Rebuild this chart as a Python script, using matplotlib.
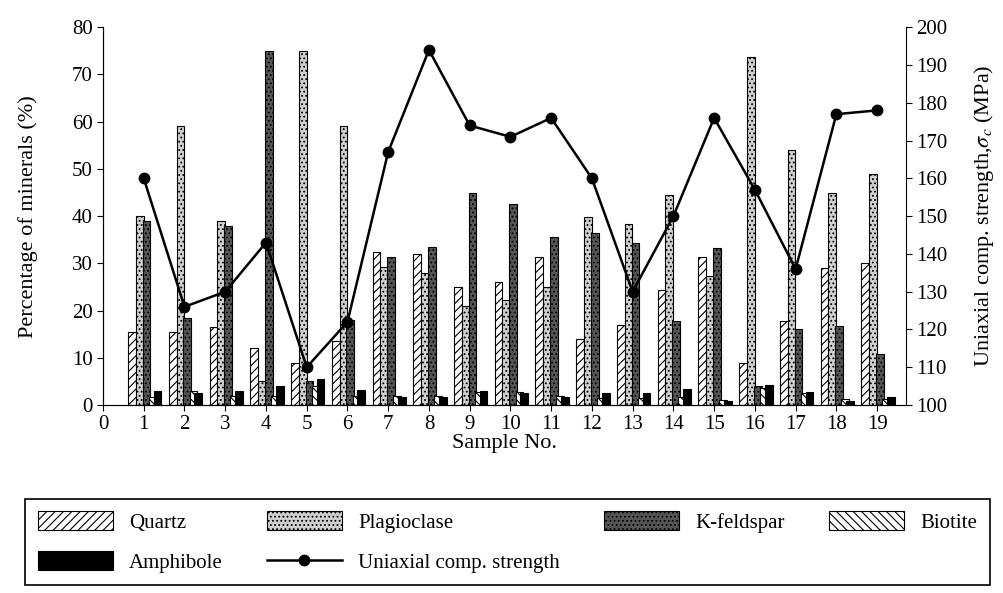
import numpy as np
import matplotlib
matplotlib.use("Agg")
import matplotlib.pyplot as plt
from matplotlib.lines import Line2D

plt.rcParams['font.family'] = ['Liberation Serif', 'DejaVu Serif']
plt.rcParams['mathtext.fontset'] = 'stix'
plt.rcParams['hatch.linewidth'] = 0.8

# data
samples = list(range(1, 20))
quartz = [15.5, 15.5, 16.5, 12, 9, 13.5, 32.4, 32, 25, 26, 31.3, 14, 17, 24.3, 31.3, 9, 17.8, 29, 30]
plagioclase = [40, 59, 39, 5, 75, 59, 29.3, 28, 21, 22.3, 25, 39.8, 38.4, 44.4, 27.3, 73.6, 54, 45, 49]
k_feldspar = [39, 18.5, 38, 75, 5, 18, 31.3, 33.5, 45, 42.6, 35.5, 36.5, 34.4, 17.8, 33.2, 4, 16, 16.7, 10.8]
biotite = [1.8, 3, 2, 2, 4, 2, 2, 2, 2.8, 2.8, 2, 1.5, 1.5, 1.7, 1, 3.5, 2.5, 1.2, 1.3]
amphibole = [3, 2.5, 3, 4, 5.5, 3.2, 1.8, 1.8, 3, 2.5, 1.8, 2.5, 2.5, 3.3, 0.8, 4.2, 2.8, 0.8, 1.8]
ucs = [160, 126, 130, 143, 110, 122, 167, 194, 174, 171, 176, 160, 130, 150, 176, 157, 136, 177, 178]

series = [
    ('Quartz', quartz, 'white', '////'),
    ('Plagioclase', plagioclase, '#d0d0d0', '....'),
    ('K-feldspar', k_feldspar, '#555555', '....'),
    ('Biotite', biotite, 'white', '\\\\\\\\'),
    ('Amphibole', amphibole, 'black', None),
]
offsets = [-0.29, -0.1, 0.07, 0.22, 0.34]
width = 0.19

fig = plt.figure(figsize=(10.04, 5.93), dpi=100)
ax = fig.add_axes([0.1026, 0.317, 0.7994, 0.637])
x = np.array(samples)

handles = {}
for (name, vals, color, hatch), off in zip(series, offsets):
    b = ax.bar(x + off, vals, width=width, color=color, edgecolor='black',
               linewidth=0.8, hatch=hatch, label=name, zorder=2)
    handles[name] = b

ax.set_xlim(0, 19.7)
ax.set_ylim(0, 80)
ax.set_xticks(range(0, 20))
ax.set_yticks(range(0, 81, 10))
ax.tick_params(labelsize=15, direction='out', length=4)
ax.set_xlabel('Sample No.', fontsize=16, labelpad=0)
ax.set_ylabel('Percentage of minerals (%)', fontsize=16, labelpad=24)
ax.spines['top'].set_visible(False)
ax.spines['right'].set_visible(False)

ax2 = ax.twinx()
ax2.plot(x, ucs, color='black', marker='o', markersize=7.5, linewidth=1.8, zorder=3)
ax2.set_ylim(100, 200)
ax2.set_yticks(range(100, 201, 10))
ax2.tick_params(labelsize=15, direction='out', length=4)
ax2.set_ylabel('Uniaxial comp. strength,$\\sigma_c$ (MPa)', fontsize=16, labelpad=18)
ax2.spines['top'].set_visible(False)

line_h = Line2D([], [], color='black', marker='o', markersize=7.5, linewidth=1.8)
order = ['Quartz', 'Amphibole', 'Plagioclase', 'Uniaxial comp. strength', 'K-feldspar', 'Biotite']
hmap = dict(handles)
hmap['Uniaxial comp. strength'] = line_h
leg = fig.legend([hmap[k] for k in order], order, ncol=4, loc='lower left',
                 bbox_to_anchor=(0.025, 0.013, 0.961, 0.149), mode='expand',
                 fontsize=15, handlelength=3.6, handleheight=1.0,
                 fancybox=False, edgecolor='black', framealpha=1,
                 borderaxespad=0, labelspacing=0.9, borderpad=0.6)
leg.get_frame().set_linewidth(1.2)

fig.savefig('out.png', dpi=100)
